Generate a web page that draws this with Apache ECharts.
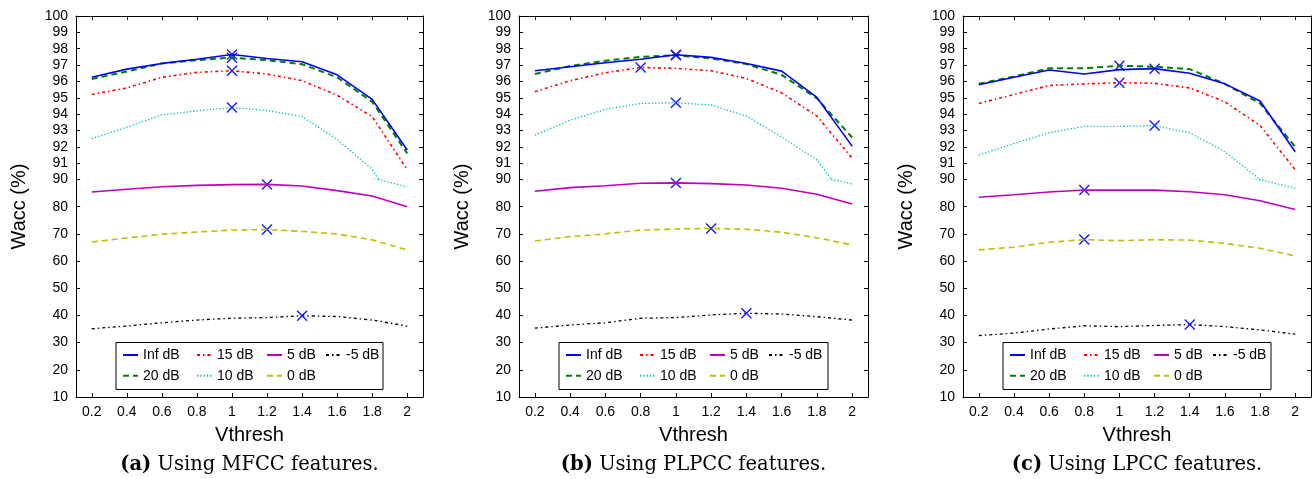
<!DOCTYPE html>
<html><head><meta charset="utf-8">
<script src="https://cdn.jsdelivr.net/npm/echarts@6/dist/echarts.min.js"></script>
<style>html,body{margin:0;padding:0;background:#fff}#c{width:1315px;height:479px}</style>
</head><body><div id="c"></div>
<script>
// ---------------- data ----------------
const vthresh = [0.2, 0.4, 0.6, 0.8, 1.0, 1.2, 1.4, 1.6, 1.8, 2.0];
const xTicks = [0.2, 0.4, 0.6, 0.8, 1, 1.2, 1.4, 1.6, 1.8, 2];
const yUpperTicks = [90, 91, 92, 93, 94, 95, 96, 97, 98, 99, 100];
const yLowerTicks = [10, 20, 30, 40, 50, 60, 70, 80, 90];
const snrNames = ['Inf dB', '20 dB', '15 dB', '10 dB', '5 dB', '0 dB', '-5 dB'];
const captionTags = ['(a)', '(b)', '(c)'];
const captionTexts = ['Using MFCC features.', 'Using PLPCC features.', 'Using LPCC features.'];

// (a) MFCC
const mfccInf = [96.25, 96.75, 97.1, 97.35, 97.65, 97.4, 97.2, 96.4, 94.9, 91.8];
const mfcc20  = [96.15, 96.6, 97.1, 97.3, 97.45, 97.3, 97.05, 96.25, 94.75, 91.6];
const mfcc15  = [95.2, 95.6, 96.25, 96.55, 96.65, 96.45, 96.05, 95.15, 93.85, 90.6];
const mfcc10  = [92.5, 93.2, 93.95, 94.2, 94.4, 94.22, 93.85, 92.45, 90.62, 87.3];
const mfcc5   = [85.4, 86.4, 87.35, 87.85, 88.1, 88.2, 87.6, 85.9, 83.9, 80.0];
const mfcc0   = [67.0, 68.5, 69.85, 70.7, 71.4, 71.6, 70.9, 69.95, 67.8, 64.1];
const mfccM5  = [35.1, 36.1, 37.3, 38.3, 39.0, 39.2, 39.9, 39.6, 38.3, 36.1];

// (b) PLPCC
const plpInf = [96.65, 96.9, 97.14, 97.35, 97.63, 97.47, 97.1, 96.63, 95.02, 92.04];
const plp20  = [96.45, 96.94, 97.27, 97.5, 97.6, 97.4, 97.06, 96.4, 94.96, 92.57];
const plp15  = [95.37, 96.04, 96.53, 96.85, 96.8, 96.65, 96.18, 95.3, 93.88, 91.3];
const plp10  = [92.71, 93.63, 94.29, 94.65, 94.7, 94.55, 93.88, 92.6, 91.2, 88.35];
const plp5   = [85.65, 87.0, 87.7, 88.6, 88.75, 88.5, 88.0, 86.8, 84.6, 81.0];
const plp0   = [67.4, 69.0, 70.0, 71.4, 71.8, 72.0, 71.7, 70.6, 68.6, 65.9];
const plpM5  = [35.3, 36.5, 37.3, 38.95, 39.2, 40.2, 40.8, 40.5, 39.55, 38.3];

// (c) LPCC
const lpInf = [95.8, 96.25, 96.7, 96.45, 96.72, 96.78, 96.5, 95.85, 94.8, 91.7];
const lp20  = [95.85, 96.3, 96.8, 96.8, 96.96, 96.9, 96.75, 95.85, 94.65, 92.0];
const lp15  = [94.65, 95.2, 95.75, 95.85, 95.92, 95.88, 95.6, 94.75, 93.3, 90.6];
const lp10  = [91.5, 92.2, 92.85, 93.25, 93.25, 93.3, 92.85, 91.7, 90.0, 86.8];
const lp5   = [83.45, 84.4, 85.4, 86.15, 86.1, 86.1, 85.5, 84.4, 82.2, 79.0];
const lp0   = [64.1, 65.1, 66.9, 67.9, 67.5, 67.85, 67.7, 66.5, 64.7, 61.9];
const lpM5  = [32.6, 33.5, 35.0, 36.2, 35.9, 36.3, 36.65, 35.9, 34.7, 33.1];

const panelData = [
  [mfccInf, mfcc20, mfcc15, mfcc10, mfcc5, mfcc0, mfccM5],
  [plpInf, plp20, plp15, plp10, plp5, plp0, plpM5],
  [lpInf, lp20, lp15, lp10, lp5, lp0, lpM5]
];

// ---------------- styles / layout ----------------
const styleOf = {
  'Inf dB': {color: '#0000ff', width: 1.6, type: 'solid'},
  '20 dB':  {color: '#007f00', width: 2, type: [6, 4]},
  '15 dB':  {color: '#ff0000', width: 1.6, type: [3, 3, 1.5, 3]},
  '10 dB':  {color: '#00bfbf', width: 1.3, type: [1.3, 2]},
  '5 dB':   {color: '#bf00bf', width: 1.6, type: 'solid'},
  '0 dB':   {color: '#bfbf00', width: 1.6, type: [6, 4]},
  '-5 dB':  {color: '#000000', width: 1.3, type: [3, 3, 1.5, 3]}
};
const legendCols = [['Inf dB', '20 dB'], ['15 dB', '10 dB'], ['5 dB', '0 dB'], ['-5 dB']];
const legendColOffsets = [46, 120, 190, 249];

const panels = [{left: 76, width: 347}, {left: 519, width: 349}, {left: 963, width: 348}];
const plotTop = 16, plotMid = 179.5, plotBottom = 397;
const FONT = 'Liberation Sans';
const SPLIT = 90;

const grid = [], xAxis = [], yAxis = [], series = [], legend = [], graphic = [];
const tickStyle = {show: true, inside: true, length: 4, lineStyle: {color: '#000', width: 1}};
const lineSt = {show: true, lineStyle: {color: '#000', width: 1}};
const lblStyle = {color: '#000', fontFamily: FONT, fontSize: 14};

panels.forEach((p, pi) => {
  const gU = grid.length;
  grid.push({left: p.left, width: p.width, top: plotTop, height: plotMid - plotTop});
  const gL = grid.length;
  grid.push({left: p.left, width: p.width, top: plotMid, height: plotBottom - plotMid});

  const xU = xAxis.length;
  xAxis.push({type: 'value', gridIndex: gU, position: 'top', min: 0.11, max: 2.09,
    axisLine: lineSt, axisTick: Object.assign({customValues: xTicks}, tickStyle),
    axisLabel: {show: false}, splitLine: {show: false}});
  const xL = xAxis.length;
  xAxis.push({type: 'value', gridIndex: gL, position: 'bottom', min: 0.11, max: 2.09,
    name: 'Vthresh', nameLocation: 'middle', nameGap: 28,
    nameTextStyle: {color: '#000', fontFamily: FONT, fontSize: 20},
    axisLine: lineSt, axisTick: Object.assign({customValues: xTicks}, tickStyle),
    axisLabel: Object.assign({customValues: xTicks, margin: 8}, lblStyle), splitLine: {show: false}});

  const yU = yAxis.length;
  yAxis.push({type: 'value', gridIndex: gU, position: 'left', min: yUpperTicks[0], max: yUpperTicks[yUpperTicks.length - 1], interval: 1,
    axisLine: lineSt, axisTick: tickStyle, axisLabel: Object.assign({margin: 8}, lblStyle), splitLine: {show: false}});
  yAxis.push({type: 'value', gridIndex: gU, position: 'right', min: yUpperTicks[0], max: yUpperTicks[yUpperTicks.length - 1], interval: 1,
    axisLine: lineSt, axisTick: tickStyle, axisLabel: {show: false}, splitLine: {show: false}});
  const yL = yAxis.length;
  yAxis.push({type: 'value', gridIndex: gL, position: 'left', min: yLowerTicks[0], max: yLowerTicks[yLowerTicks.length - 1], interval: 10,
    axisLine: lineSt, axisTick: tickStyle, axisLabel: Object.assign({margin: 8, showMaxLabel: false}, lblStyle), splitLine: {show: false}});
  yAxis.push({type: 'value', gridIndex: gL, position: 'right', min: yLowerTicks[0], max: yLowerTicks[yLowerTicks.length - 1], interval: 10,
    axisLine: lineSt, axisTick: tickStyle, axisLabel: {show: false}, splitLine: {show: false}});

  snrNames.forEach((name, si) => {
    const vals = panelData[pi][si];
    const pts = vthresh.map((x, i) => [x, vals[i]]);
    const st = styleOf[name];
    const maxInUpper = Math.max.apply(null, vals) >= SPLIT;
    const mp = {
      symbol: 'path://M0,0L10,10M10,0L0,10', symbolSize: 10, silent: true,
      label: {show: false},
      itemStyle: {color: 'transparent', borderColor: '#1a1aff', borderWidth: 1.4},
      data: [{type: 'max', valueDim: 'y'}]
    };
    [[xU, yU, true], [xL, yL, false]].forEach(([xi, yi, upper]) => {
      series.push({
        type: 'line', name: name, xAxisIndex: xi, yAxisIndex: yi, data: pts,
        symbol: 'none', clip: true, color: st.color,
        lineStyle: {color: st.color, width: st.width, type: st.type},
        markPoint: (upper === maxInUpper) ? mp : undefined,
        z: 10 - si
      });
    });
  });

  // legend box
  graphic.push({type: 'rect', shape: {x: p.left + 40, y: 342.5, width: p.width - 80, height: 47},
    style: {fill: '#fff', stroke: '#000', lineWidth: 1}, z: 50});
  legendCols.forEach((col, ci) => {
    legend.push({orient: 'vertical', left: p.left + legendColOffsets[ci], top: 348, padding: 0,
      itemWidth: 15, itemHeight: 14, itemGap: 6.7, selectedMode: false, data: col, z: 60,
      itemStyle: {opacity: 0, color: 'transparent', borderWidth: 0},
      textStyle: {color: '#000', fontFamily: FONT, fontSize: 14}});
  });

  // y-axis name
  graphic.push({type: 'text', x: p.left - 57, y: (plotTop + plotBottom) / 2, rotation: Math.PI / 2,
    style: {text: 'Wacc (%)', fill: '#000', font: '20px "Liberation Sans"', align: 'center', verticalAlign: 'middle'}});
  // caption
  graphic.push({type: 'text', x: p.left + p.width / 2, y: 465,
    style: {text: '{b|' + captionTags[pi] + '} ' + captionTexts[pi], fill: '#000',
      font: '19.5px "DejaVu Serif"', align: 'center', verticalAlign: 'middle',
      rich: {b: {fontWeight: 'bold', fontFamily: 'DejaVu Serif', fontSize: 19.5, fill: '#000'}}}});
});

const chart = echarts.init(document.getElementById('c'));
chart.setOption({animation: false, backgroundColor: '#fff', grid, xAxis, yAxis, series, legend, graphic});
</script></body></html>
